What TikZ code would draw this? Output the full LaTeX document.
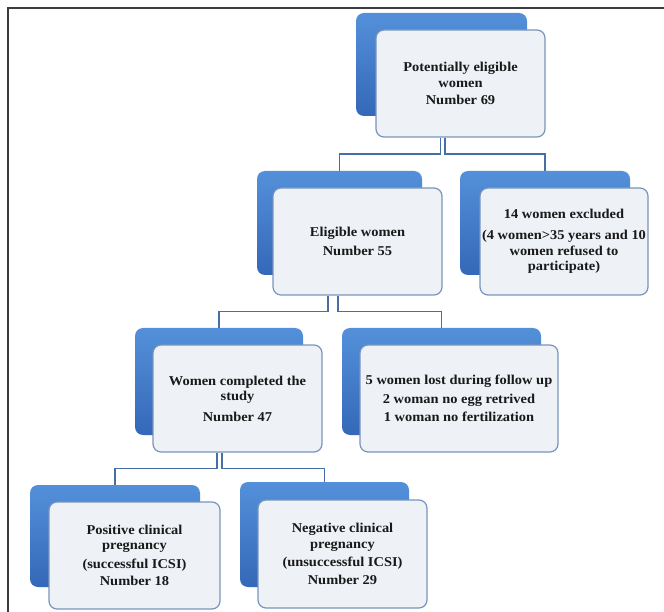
\documentclass[tikz,border=0pt]{standalone}
\usepackage{fontspec}
\setmainfont{Liberation Serif}[FakeStretch=1.07]
\usetikzlibrary{calc}
\definecolor{backtop}{RGB}{84,144,218}
\definecolor{backbot}{RGB}{52,104,184}
\definecolor{frontfill}{RGB}{238,241,246}
\definecolor{frontline}{RGB}{120,148,188}
\definecolor{conncol}{RGB}{70,112,165}
\definecolor{framecol}{RGB}{60,60,60}
\tikzset{
  backbox/.style={rounded corners=8pt, top color=backtop, bottom color=backbot, draw=none, inner sep=0pt},
  frontbox/.style={rounded corners=8pt, fill=frontfill, draw=frontline, line width=1.2pt, inner sep=1pt,
    align=center, font=\bfseries\fontsize{13.5}{15.5}\selectfont, text=black!90},
  conn/.style={draw=conncol, line width=1.5pt},
}
\begin{document}
\begin{tikzpicture}[x=1pt,y=-1pt]
\useasboundingbox (0,0) rectangle (664,612);
\fill[white] (0,0) rectangle (664,612);
\draw[framecol, line width=1.2pt] (8,612) -- (8,8) -- (664,8);

% back boxes
\node[backbox, minimum width=171pt, minimum height=103pt] (b1) at (441.5,64.5) {};
\node[backbox, minimum width=165pt, minimum height=104pt] (b2) at (339.5,223) {};
\node[backbox, minimum width=170pt, minimum height=104pt] (b3) at (545,223) {};
\node[backbox, minimum width=168pt, minimum height=107pt] (b4) at (219,381.5) {};
\node[backbox, minimum width=199pt, minimum height=107pt] (b5) at (441.5,381.5) {};
\node[backbox, minimum width=170pt, minimum height=102pt] (b6) at (115,536) {};
\node[backbox, minimum width=169pt, minimum height=105pt] (b7) at (324.5,534.5) {};

% front boxes
\node[frontbox, minimum width=169pt, minimum height=107pt] (f1) at (460.5,83.5)
  {Potentially eligible\\ women\\[2pt] Number 69};
\node[frontbox, minimum width=169pt, minimum height=107pt] (f2) at (357.5,241.5)
  {Eligible women\\[3pt] Number 55};
\node[frontbox, minimum width=168pt, minimum height=107pt] (f3) at (564,241.5)
  {14 women excluded\\[6pt] (4 women>35 years and 10\\ women refused to\\ participate)};
\node[frontbox, minimum width=169pt, minimum height=107pt] (f4) at (237.5,398.5)
  {Women completed the\\ study\\[5pt] Number 47};
\node[frontbox, minimum width=198pt, minimum height=107pt] (f5) at (459,398.5)
  {5 women lost during follow up\\[3pt] 2 woman no egg retrived\\[3pt] 1 woman no fertilization};
\node[frontbox, minimum width=171pt, minimum height=107pt] (f6) at (134.5,555.5)
  {Positive clinical\\ pregnancy\\[3pt] (successful ICSI)\\[2pt] Number 18};
\node[frontbox, minimum width=169pt, minimum height=108pt] (f7) at (342.5,554)
  {Negative clinical\\ pregnancy\\[3pt] (unsuccessful ICSI)\\[2pt] Number 29};

% connectors
\coordinate (m1) at ($(f1.south)!.5!(b2.north)$);
\coordinate (m2) at ($(f2.south)!.5!(b4.north)$);
\coordinate (m3) at ($(f4.south)!.5!(b6.north)$);
\coordinate (s1l) at ($(b1.south |- f1.south)+(-1,0)$);
\coordinate (s1r) at ($(b1.south |- f1.south)+(3.5,0)$);
\coordinate (s2l) at ($(b2.south |- f2.south)+(-11.5,0)$);
\coordinate (s2r) at ($(b2.south |- f2.south)+(-1.5,0)$);
\coordinate (s4l) at ($(b4.south |- f4.south)+(-2,0)$);
\coordinate (s4r) at ($(b4.south |- f4.south)+(3,0)$);
\draw[conn] (s1l) -- (s1l |- m1) -| (b2.north);
\draw[conn] (s1r) -- (s1r |- m1) -| (b3.north);
\draw[conn] (s2l) -- (s2l |- m2) -| (b4.north);
\draw[conn] (s2r) -- (s2r |- m2) -| (b5.north);
\draw[conn] (s4l) -- (s4l |- m3) -| (b6.north);
\draw[conn] (s4r) -- (s4r |- m3) -| (b7.north);
\end{tikzpicture}
\end{document}
